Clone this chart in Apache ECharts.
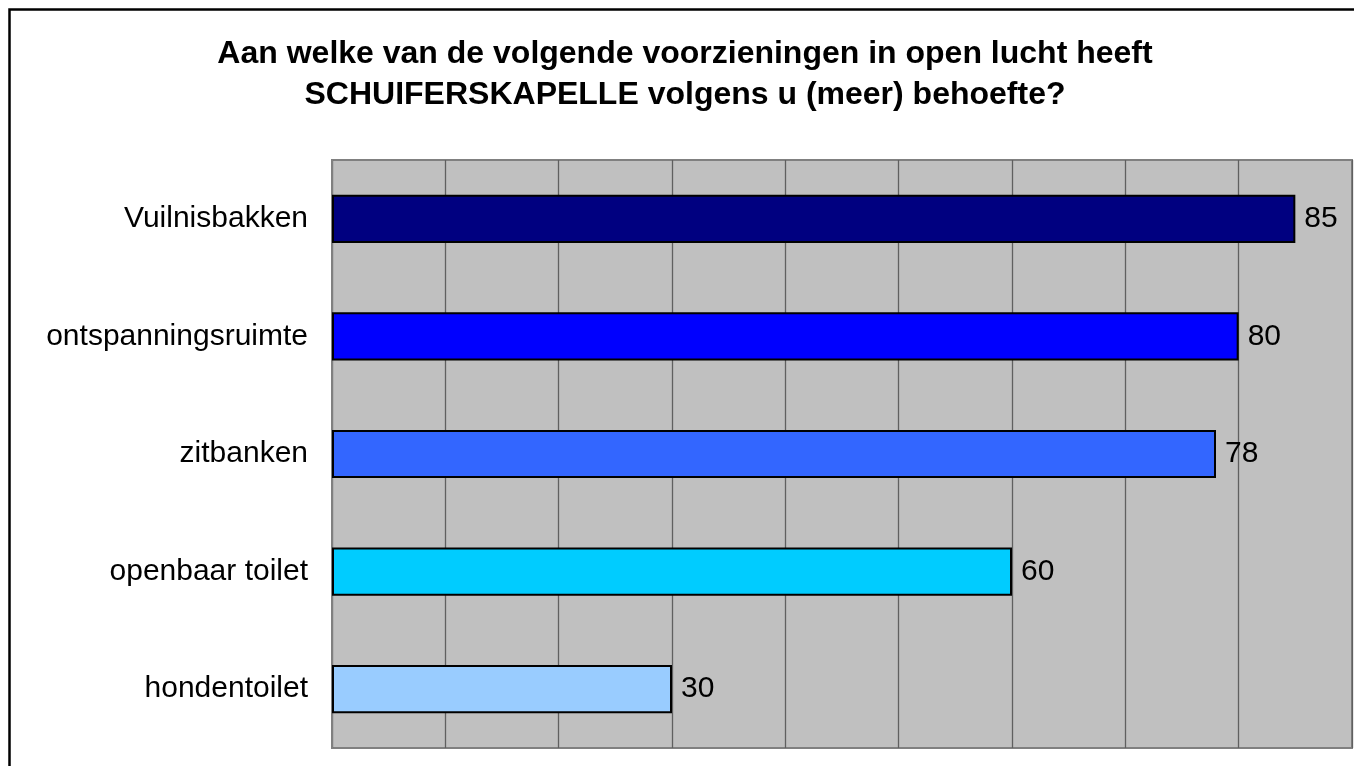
<!DOCTYPE html>
<html>
<head>
<meta charset="utf-8">
<script src="https://cdn.jsdelivr.net/npm/echarts@6/dist/echarts.min.js"></script>
<style>
  html, body { margin: 0; padding: 0; background: #fff; }
  #chart { width: 1354px; height: 766px; }
</style>
</head>
<body>
<div id="chart"></div>
<script>
// categories and values, top to bottom
const categories = ['Vuilnisbakken', 'ontspanningsruimte', 'zitbanken', 'openbaar toilet', 'hondentoilet'];
const values = [85, 80, 78, 60, 30];
const barColors = ['#000080', '#0000FF', '#3366FF', '#00CCFF', '#99CCFF'];
const titleLines = [
    'Aan welke van de volgende voorzieningen in open lucht heeft',
    'SCHUIFERSKAPELLE volgens u (meer) behoefte?'
];

const font = '"Liberation Sans", Arial, sans-serif';
const chart = echarts.init(document.getElementById('chart'));

chart.setOption({
    backgroundColor: '#fff',
    animation: false,
    graphic: [
        {
            type: 'rect',
            shape: { x: 9.5, y: 9.5, width: 1400, height: 800 },
            style: { fill: 'none', stroke: '#000', lineWidth: 2.5 },
            silent: true
        },
        {
            type: 'text',
            x: 685,
            y: 75,
            style: {
                text: titleLines.join('\n'),
                font: 'bold 32px ' + font,
                fill: '#000',
                align: 'center',
                verticalAlign: 'middle',
                lineHeight: 41
            }
        }
    ],
    grid: {
        left: 332,
        top: 160,
        right: 2,
        bottom: 18,
        show: true,
        backgroundColor: '#C0C0C0',
        borderColor: '#808080',
        borderWidth: 2
    },
    xAxis: {
        type: 'value',
        min: 0,
        max: 90,
        interval: 10,
        axisLabel: { show: false },
        axisLine: { show: false },
        axisTick: { show: false },
        splitLine: { lineStyle: { color: '#606060', width: 1.3 } }
    },
    yAxis: {
        type: 'category',
        inverse: true,
        data: categories,
        axisLine: { lineStyle: { color: '#808080', width: 2 } },
        axisTick: { length: 10, lineStyle: { color: '#808080', width: 1.5 } },
        axisLabel: {
            color: '#000',
            fontFamily: font,
            fontSize: 30,
            margin: 24
        }
    },
    series: [
        {
            type: 'bar',
            barWidth: '41%',
            data: values.map((v, i) => ({
                value: v,
                itemStyle: { color: barColors[i] }
            })),
            itemStyle: { borderColor: '#000', borderWidth: 2 },
            label: {
                show: true,
                position: 'right',
                distance: 9,
                color: '#000',
                fontFamily: font,
                fontSize: 30
            }
        }
    ]
});
</script>
</body>
</html>
